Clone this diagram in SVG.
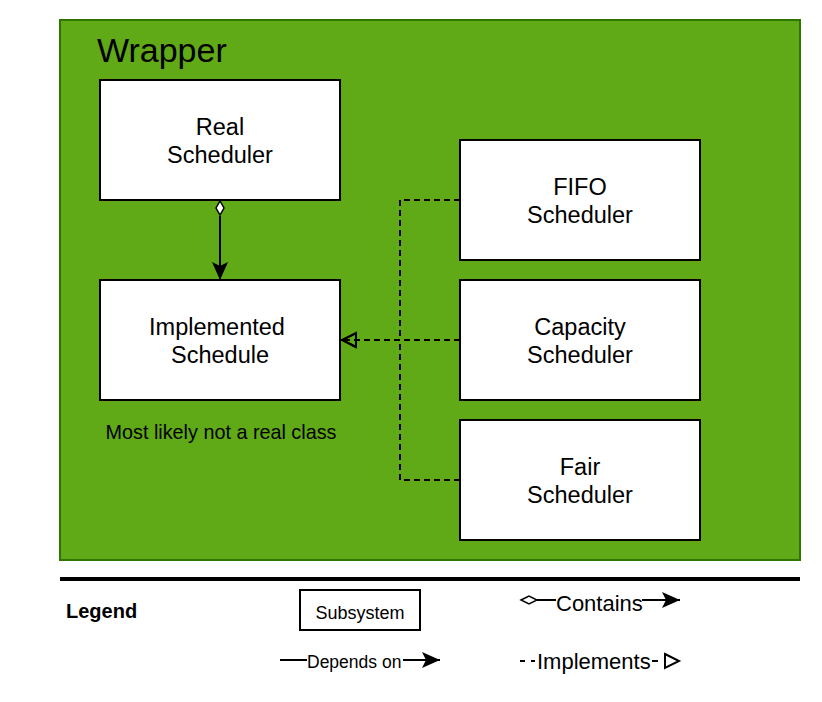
<svg xmlns="http://www.w3.org/2000/svg" width="822" height="702" viewBox="0 0 822 702">
<style>
text{font-family:"Liberation Sans",Arial,sans-serif;fill:#000}
.box{fill:#fff;stroke:#000;stroke-width:2}
.lbl{font-size:23.5px;text-anchor:middle}
.ln{fill:none;stroke:#000;stroke-width:2}
.dash{fill:none;stroke:#000;stroke-width:2;stroke-dasharray:6 4}
</style>
<defs>
<marker id="arr" markerWidth="20" markerHeight="18" viewBox="0 0 20 18" refX="19" refY="9" orient="auto" markerUnits="userSpaceOnUse">
<path d="M1,1 L19,9 L1,17 L5,9 Z" fill="#000"/>
</marker>
<marker id="tri" markerWidth="18" markerHeight="18" viewBox="0 0 18 18" refX="17" refY="9" orient="auto" markerUnits="userSpaceOnUse">
<path d="M2,2 L16,9 L2,16 Z" fill="none" stroke="#000" stroke-width="2"/>
</marker>
</defs>
<g id="wrapper">
<rect x="60" y="20" width="740" height="540" fill="#60a917" stroke="#2d7600" stroke-width="2"/>
<text x="97" y="62" font-size="34">Wrapper</text>
</g>
<g id="real-scheduler">
<rect class="box" x="100" y="80" width="240" height="120"/>
<text class="lbl" x="220" y="135">Real</text>
<text class="lbl" x="220" y="163">Scheduler</text>
</g>
<g id="implemented-schedule">
<rect class="box" x="100" y="280" width="240" height="120"/>
<text class="lbl" x="217" y="335">Implemented</text>
<text class="lbl" x="220" y="363">Schedule</text>
<text x="221" y="439" font-size="19.8" text-anchor="middle">Most likely not a real class</text>
</g>
<g id="fifo-scheduler">
<rect class="box" x="460" y="140" width="240" height="120"/>
<text class="lbl" x="580" y="195">FIFO</text>
<text class="lbl" x="580" y="223">Scheduler</text>
</g>
<g id="capacity-scheduler">
<rect class="box" x="460" y="280" width="240" height="120"/>
<text class="lbl" x="580" y="335">Capacity</text>
<text class="lbl" x="580" y="363">Scheduler</text>
</g>
<g id="fair-scheduler">
<rect class="box" x="460" y="420" width="240" height="120"/>
<text class="lbl" x="580" y="475">Fair</text>
<text class="lbl" x="580" y="503">Scheduler</text>
</g>
<g id="connectors">
<path d="M220,216 L220,280" class="ln" marker-end="url(#arr)"/>
<path d="M216,208 L220,201 L224,208 L220,215 Z" fill="#fff" stroke="#000" stroke-width="1.5"/>
<path d="M460,200 L400,200 L400,340 L341,340" class="dash" marker-end="url(#tri)"/>
<path d="M460,340 L341,340" class="dash" marker-end="url(#tri)"/>
<path d="M460,480 L400,480 L400,340" class="dash"/>
</g>
<g id="legend">
<line x1="60" y1="579" x2="800" y2="579" stroke="#000" stroke-width="4"/>
<text x="66" y="618" font-size="20" font-weight="bold">Legend</text>
<rect x="300" y="590" width="120" height="40" fill="#fff" stroke="#000" stroke-width="2"/>
<text x="360" y="619" font-size="18" text-anchor="middle">Subsystem</text>
<path d="M521,600 L529,596 L537,600 L529,604 Z" fill="#fff" stroke="#000" stroke-width="1.5"/>
<line x1="537" y1="600" x2="556" y2="600" stroke="#000" stroke-width="2"/>
<text x="556" y="611" font-size="22">Contains</text>
<path d="M642,600 L680,600" class="ln" marker-end="url(#arr)"/>
<line x1="280" y1="660" x2="307" y2="660" stroke="#000" stroke-width="2"/>
<text x="307" y="668" font-size="17.5">Depends on</text>
<path d="M403,660 L440,660" class="ln" marker-end="url(#arr)"/>
<line x1="520" y1="661" x2="525" y2="661" stroke="#000" stroke-width="2"/>
<line x1="531" y1="661" x2="535" y2="661" stroke="#000" stroke-width="2"/>
<text x="537" y="669" font-size="22">Implements</text>
<line x1="652" y1="661" x2="658" y2="661" stroke="#000" stroke-width="2"/>
<path d="M665,654 L679,661 L665,668 Z" fill="none" stroke="#000" stroke-width="2"/>
</g>
</svg>
